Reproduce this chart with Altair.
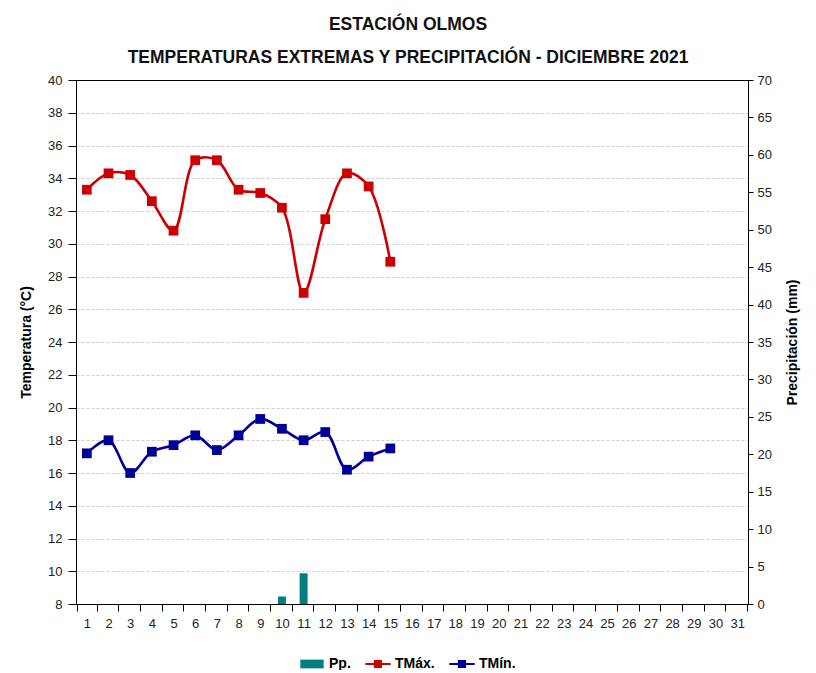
import altair as alt
import pandas as pd

dias = list(range(1, 32))
dias_obs = list(range(1, 16))
tmax = [33.3, 34.3, 34.2, 32.6, 30.8, 35.1, 35.1, 33.3, 33.1, 32.2, 27.0, 31.5, 34.3, 33.5, 28.9]
tmin = [17.2, 18.0, 16.0, 17.3, 17.7, 18.3, 17.4, 18.3, 19.3, 18.7, 18.0, 18.5, 16.2, 17.0, 17.5]
pp = [0, 0, 0, 0, 0, 0, 0, 0, 0, 1.0, 4.1, 0, 0, 0, 0]

series = ["Pp.", "TMáx.", "TMín."]
colores = ["#008080", "#CC0000", "#000099"]
simbolos = [
    "M-1.2,-0.45H1.2V0.45H-1.2Z",
    "M-1.3,-0.11H1.3V0.11H-1.3Z M-0.42,-0.42H0.42V0.42H-0.42Z",
    "M-1.3,-0.11H1.3V0.11H-1.3Z M-0.42,-0.42H0.42V0.42H-0.42Z",
]
temp_min_eje, temp_max_eje = 8, 40

FONT = "Liberation Sans"

temp = pd.DataFrame({
    "dia": dias_obs * 2,
    "valor": tmax + tmin,
    "serie": ["TMáx."] * len(tmax) + ["TMín."] * len(tmin),
})
prec = pd.DataFrame({"dia": dias_obs, "pp": pp, "serie": ["Pp."] * len(pp)})
leyenda = pd.DataFrame({"dia": [1, 1, 1], "valor": [None, None, None], "serie": series})

x = alt.X("dia:O", scale=alt.Scale(domain=dias),
          axis=alt.Axis(title=None, labelAngle=0, tickBand="extent", tickSize=7,
                        labelPadding=6, labelFontSize=13, labelColor="#222",
                        labelFont=FONT, domainColor="#000", tickColor="#000",
                        grid=False))

color = alt.Color("serie:N", scale=alt.Scale(domain=series, range=colores),
                  legend=alt.Legend(title=None, orient="none", direction="horizontal",
                                    legendX=226, legendY=574,
                                    symbolSize=380, labelFontSize=14, labelFont=FONT,
                                    labelFontWeight="bold", labelColor="#000",
                                    symbolOpacity=1, columnPadding=14, labelOffset=7,
                                    symbolStrokeWidth=0))

bars = alt.Chart(prec).mark_bar(size=8, opacity=1).encode(
    x=x,
    y=alt.Y("pp:Q", scale=alt.Scale(domain=[0, 70], nice=False),
            axis=alt.Axis(title="Precipitación (mm)", orient="right", values=list(range(0, 71, 5)),
                          grid=False, tickSize=5, labelPadding=4, labelFontSize=13,
                          labelFont=FONT, labelColor="#222", titleFont=FONT,
                          titleFontSize=14, titleFontWeight="bold", titleColor="#000",
                          titleAngle=270, titlePadding=28, domainColor="#000",
                          tickColor="#000")),
    color=color,
)

ytemp = alt.Y("valor:Q", scale=alt.Scale(domain=[temp_min_eje, temp_max_eje], nice=False),
              axis=alt.Axis(title="Temperatura (°C)", values=list(range(8, 41, 2)),
                            grid=True,
                            gridDash={"condition": {"test": f"datum.value === {temp_max_eje}", "value": []},
                                      "value": [3, 2]},
                            gridColor={"condition": {"test": f"datum.value === {temp_max_eje}", "value": "#000"},
                                       "value": "#cfcfcf"},
                            tickSize=8, labelPadding=6, labelFontSize=13, labelFont=FONT,
                            labelColor="#222", titleFont=FONT, titleFontSize=14,
                            titleFontWeight="bold", titleColor="#000", titlePadding=14,
                            domainColor="#000", tickColor="#000"))

lines = alt.Chart(temp).mark_line(interpolate="catmull-rom", strokeWidth=2.6, opacity=1).encode(
    x=x, y=ytemp, color=color, detail="serie:N")

pts = alt.Chart(temp).mark_point(filled=True, shape="square", size=95, opacity=1).encode(
    x=x, y=ytemp, color=color)

leg = alt.Chart(leyenda).mark_point(filled=True, opacity=1).encode(
    x=x, y=ytemp, color=color,
    shape=alt.Shape("serie:N", scale=alt.Scale(domain=series, range=simbolos)))

temps = alt.layer(lines, pts, leg)

chart = alt.layer(bars, temps).resolve_scale(y="independent").properties(
    width=672, height=524,
    autosize=alt.AutoSizeParams(type="none"),
    padding={"left": 68, "top": 72, "right": 60, "bottom": 66},
    title=alt.TitleParams(
        text="ESTACIÓN OLMOS",
        subtitle="TEMPERATURAS EXTREMAS Y PRECIPITACIÓN - DICIEMBRE 2021",
        font=FONT, fontSize=17.5, fontWeight="bold", color="#111",
        subtitleFont=FONT, subtitleFontSize=17.5, subtitleFontWeight="bold",
        subtitleColor="#111", subtitlePadding=15, anchor="middle", offset=8, dx=-4),
).configure_view(stroke="#000", strokeWidth=1)

chart.save("out.html", embed_options={"renderer": "svg", "actions": False})
